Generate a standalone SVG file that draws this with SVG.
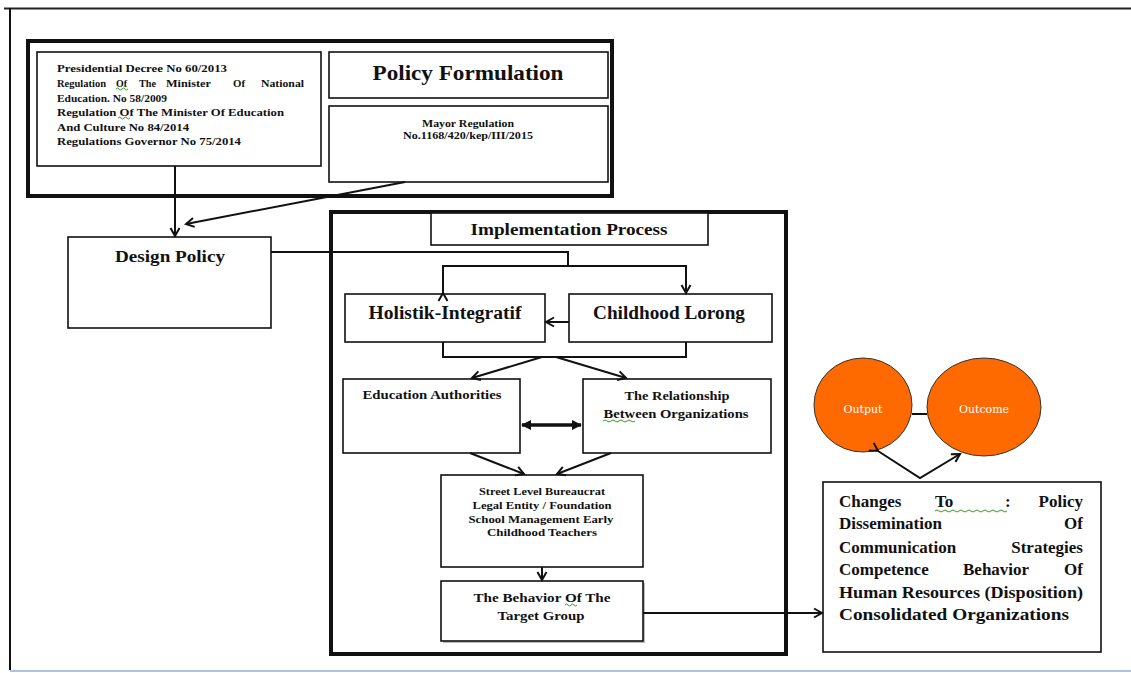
<svg xmlns="http://www.w3.org/2000/svg" width="1131" height="673" viewBox="0 0 1131 673">
<style>
.box{fill:#fff;stroke:#111;stroke-width:1.6}
.thick{fill:none;stroke:#111;stroke-width:4}
.t{font-family:"Liberation Serif","Times New Roman",serif;font-weight:bold;fill:#111}
.c{text-anchor:middle}
.e{text-anchor:end}
.ln{fill:none;stroke:#111;stroke-width:2}
.wave{fill:none;stroke:#3a9a2a;stroke-width:1}
.ell{fill:#ff6a00;stroke:#333;stroke-width:1}
.et{font-family:"DejaVu Serif","Liberation Serif",serif;font-size:11px;fill:#fff;text-anchor:middle}
</style>
<defs>
<marker id="a" markerUnits="userSpaceOnUse" markerWidth="12" markerHeight="12" refX="10" refY="6" orient="auto">
<path d="M2,1.5 L10,6 L2,10.5" fill="none" stroke="#111" stroke-width="2"/>
</marker>
<marker id="f" markerUnits="userSpaceOnUse" markerWidth="12" markerHeight="12" refX="10" refY="6" orient="auto-start-reverse">
<path d="M1,1 L11,6 L1,11 Z" fill="#111"/>
</marker>
</defs>
<rect width="1131" height="673" fill="#fff"/>
<g id="page">
<line x1="4" y1="8.5" x2="1131" y2="8.5" stroke="#222" stroke-width="2"/>
<line x1="10" y1="8" x2="10" y2="670" stroke="#111" stroke-width="2"/>
<line x1="10" y1="671" x2="1131" y2="671" stroke="#8fb0d8" stroke-width="1.5"/>
</g>

<g id="policy-formulation">
<rect class="thick" x="28" y="41" width="584" height="155"/>
</g>
<g id="regulations">
<rect class="box" x="37" y="52" width="284" height="114"/>
<text class="t" font-size="10" x="57" y="72" textLength="170" lengthAdjust="spacingAndGlyphs">Presidential Decree No 60/2013</text>
<text class="t" font-size="10" x="57" y="87" textLength="49" lengthAdjust="spacingAndGlyphs">Regulation</text>
<text class="t" font-size="10" x="116" y="87" textLength="11" lengthAdjust="spacingAndGlyphs">Of</text>
<text class="t" font-size="10" x="139" y="87" textLength="17" lengthAdjust="spacingAndGlyphs">The</text>
<text class="t" font-size="10" x="166" y="87" textLength="45" lengthAdjust="spacingAndGlyphs">Minister</text>
<text class="t" font-size="10" x="233" y="87" textLength="12" lengthAdjust="spacingAndGlyphs">Of</text>
<text class="t" font-size="10" x="261" y="87" textLength="43" lengthAdjust="spacingAndGlyphs">National</text>
<text class="t" font-size="10" x="57" y="102" textLength="110" lengthAdjust="spacingAndGlyphs">Education. No 58/2009</text>
<text class="t" font-size="10" x="57" y="116" textLength="227" lengthAdjust="spacingAndGlyphs">Regulation Of The Minister Of Education</text>
<text class="t" font-size="10" x="57" y="131" textLength="132" lengthAdjust="spacingAndGlyphs">And Culture No 84/2014</text>
<text class="t" font-size="10" x="57" y="145" textLength="184" lengthAdjust="spacingAndGlyphs">Regulations Governor No 75/2014</text>
<path class="wave" d="M116,89 q1.5,-2 3,0 t3,0 t3,0 t3,0"/>
<path class="wave" d="M118,118 q1.5,-2 3,0 t3,0 t3,0 t3,0"/>
</g>
<g id="policy-formulation-title">
<rect class="box" x="329" y="52" width="279" height="46"/>
<text class="t c" font-size="21" x="468" y="80" textLength="191" lengthAdjust="spacingAndGlyphs">Policy Formulation</text>
</g>
<g id="mayor-regulation">
<rect class="box" x="329" y="106" width="279" height="76"/>
<text class="t c" font-size="10" x="468" y="127" textLength="92" lengthAdjust="spacingAndGlyphs">Mayor Regulation</text>
<text class="t c" font-size="10" x="468" y="139" textLength="130" lengthAdjust="spacingAndGlyphs">No.1168/420/kep/III/2015</text>
</g>

<g id="design-policy">
<rect class="box" x="68" y="237" width="203" height="91"/>
<text class="t c" font-size="16" x="170" y="262" textLength="110" lengthAdjust="spacingAndGlyphs">Design Policy</text>
</g>

<g id="implementation-process">
<rect class="thick" x="331" y="212" width="455" height="442"/>
</g>
<g id="implementation-title">
<rect class="box" x="431" y="213" width="277" height="32"/>
<text class="t c" font-size="16" x="569" y="235" textLength="197" lengthAdjust="spacingAndGlyphs">Implementation Process</text>
</g>
<g id="holistik">
<rect class="box" x="345" y="294" width="200" height="48"/>
<text class="t c" font-size="18" x="445" y="319" textLength="153" lengthAdjust="spacingAndGlyphs">Holistik-Integratif</text>
</g>
<g id="childhood-lorong">
<rect class="box" x="569" y="294" width="203" height="48"/>
<text class="t c" font-size="18" x="669" y="319" textLength="152" lengthAdjust="spacingAndGlyphs">Childhood Lorong</text>
</g>
<g id="education-authorities">
<rect class="box" x="343" y="379" width="177" height="74"/>
<text class="t c" font-size="12" x="432" y="399" textLength="139" lengthAdjust="spacingAndGlyphs">Education Authorities</text>
</g>
<g id="relationship">
<rect class="box" x="583" y="379" width="188" height="74"/>
<text class="t c" font-size="12" x="677" y="400" textLength="105" lengthAdjust="spacingAndGlyphs">The Relationship</text>
<text class="t c" font-size="12" x="676" y="418" textLength="145" lengthAdjust="spacingAndGlyphs">Between Organizations</text>
<path class="wave" d="M603,421 q2,-2 4,0 t4,0 t4,0 t4,0 t4,0 t4,0 t4,0 t4,0"/>
</g>
<g id="street-level">
<rect class="box" x="441" y="475" width="202" height="92"/>
<text class="t c" font-size="10" x="542" y="495" textLength="126" lengthAdjust="spacingAndGlyphs">Street Level Bureaucrat</text>
<text class="t c" font-size="10" x="542" y="509" textLength="139" lengthAdjust="spacingAndGlyphs">Legal Entity / Foundation</text>
<text class="t c" font-size="10" x="541" y="523" textLength="145" lengthAdjust="spacingAndGlyphs">School Management Early</text>
<text class="t c" font-size="10" x="542" y="536" textLength="110" lengthAdjust="spacingAndGlyphs">Childhood  Teachers</text>
</g>
<g id="target-group">
<rect x="443" y="583" width="202" height="60" fill="#bbb"/>
<rect class="box" x="441" y="581" width="202" height="60"/>
<text class="t c" font-size="12" x="542" y="602" textLength="137" lengthAdjust="spacingAndGlyphs">The Behavior Of The</text>
<text class="t c" font-size="12" x="541" y="620" textLength="87" lengthAdjust="spacingAndGlyphs">Target Group</text>
<path class="wave" d="M565,605 q1.5,-2 3,0 t3,0 t3,0 t3,0"/>
</g>

<g id="changes">
<rect class="box" x="823" y="482" width="278" height="170"/>
<text class="t" font-size="17" x="839" y="507">Changes</text>
<text class="t" font-size="17" x="935" y="507">To</text>
<text class="t" font-size="17" x="1005" y="507">:</text>
<text class="t e" font-size="17" x="1083" y="507">Policy</text>
<path class="wave" d="M935,511 q2,-2 4,0 t4,0 t4,0 t4,0 t4,0 t4,0 t4,0 t4,0 t4,0 t4,0 t4,0 t4,0 t4,0 t4,0 t4,0 t4,0 t4,0 t4,0"/>
<text class="t" font-size="17" x="839" y="529">Dissemination</text>
<text class="t e" font-size="17" x="1083" y="529">Of</text>
<text class="t" font-size="17" x="839" y="553">Communication</text>
<text class="t e" font-size="17" x="1083" y="553">Strategies</text>
<text class="t" font-size="17" x="839" y="575">Competence</text>
<text class="t" font-size="17" x="963" y="575">Behavior</text>
<text class="t e" font-size="17" x="1083" y="575">Of</text>
<text class="t" font-size="17" x="839" y="598" textLength="244" lengthAdjust="spacingAndGlyphs">Human Resources (Disposition)</text>
<text class="t" font-size="17" x="839" y="620" textLength="230" lengthAdjust="spacingAndGlyphs">Consolidated Organizations</text>
</g>

<g id="output">
<ellipse class="ell" cx="863" cy="405" rx="49" ry="47"/>
<text class="et" x="863" y="413">Output</text>
</g>
<g id="outcome">
<ellipse class="ell" cx="984" cy="407" rx="57" ry="49"/>
<text class="et" x="984" y="413">Outcome</text>
</g>

<g id="connectors">
<line class="ln" x1="175" y1="166" x2="175" y2="236" marker-end="url(#a)"/>
<line class="ln" x1="405" y1="182" x2="186" y2="224" marker-end="url(#a)"/>
<polyline class="ln" points="271,252 568,252 568,266"/>
<polyline class="ln" points="443,293 443,266 686,266 686,293" marker-start="url(#a)" marker-end="url(#a)"/>
<line class="ln" x1="569" y1="322" x2="546" y2="322" marker-end="url(#a)"/>
<polyline class="ln" points="443,342 443,357 686,357 686,342"/>
<line class="ln" x1="542" y1="357" x2="472" y2="378" marker-end="url(#a)"/>
<line class="ln" x1="556" y1="357" x2="626" y2="378" marker-end="url(#a)"/>
<line x1="522" y1="425" x2="581" y2="425" stroke="#111" stroke-width="3.5" marker-start="url(#f)" marker-end="url(#f)"/>
<line class="ln" x1="470" y1="453" x2="524" y2="474" marker-end="url(#a)"/>
<line class="ln" x1="611" y1="453" x2="557" y2="474" marker-end="url(#a)"/>
<line class="ln" x1="542" y1="567" x2="542" y2="580" marker-end="url(#a)"/>
<line class="ln" x1="643" y1="613" x2="822" y2="613" marker-end="url(#a)"/>
<line class="ln" x1="912" y1="414" x2="927" y2="414"/>
<polyline class="ln" points="878,451 920,478 960,454" marker-start="url(#a)" marker-end="url(#a)"/>
</g>
</svg>
